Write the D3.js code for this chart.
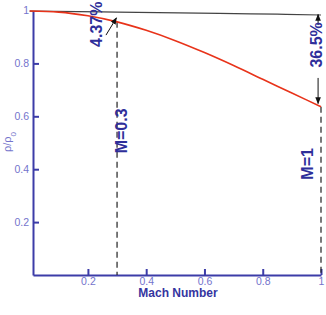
<!DOCTYPE html>
<html lang="en">
<head>
    <meta charset="UTF-8">
    <script src="https://d3js.org/d3.v7.min.js"></script>
    <title>Density ratio vs Mach number</title>
    <style>
        body { margin: 0; background: #fff; }
        svg { font-family: "Liberation Sans", Arial, sans-serif; }
        .axis .domain { stroke: #3c3ca8; stroke-width: 2; }
        .axis .tick line { stroke: #3c3ca8; stroke-width: 2; }
        .axis .tick text { fill: #7474cc; font-size: 10.5px; }
        .note { fill: #2e2e9a; font-size: 16px; font-weight: bold; }
    </style>
</head>
<body>
<div id="chart"></div>
<script>
    // valeurs
    const mach = [0, 0.1, 0.2, 0.3, 0.4, 0.5, 0.6, 0.7, 0.8, 0.9, 1.0];
    const rhoCompressible = [0.998, 0.994, 0.980, 0.957, 0.925, 0.886, 0.841, 0.792, 0.740, 0.688, 0.636];
    const machRef = [0, 0.3, 0.65, 0.85, 1.0];
    const rhoRef = [0.998, 0.994, 0.989, 0.986, 0.983];

    const xTicks = [0.2, 0.4, 0.6, 0.8, 1];
    const yTicks = [0.2, 0.4, 0.6, 0.8, 1];
    const markers = [0.3, 1];           // lignes pointillées
    const markerLabels = ["M=0.3", "M=1"];
    const dropLabels = ["4.37%", "36.5%"];

    const width = 326, height = 315;

    const svg = d3.select("#chart").append("svg")
        .attr("width", width).attr("height", height);

    const x = d3.scaleLinear().domain([0.0115, 1]).range([33, 321]);
    const y = d3.scaleLinear().domain([0, 1]).range([275, 10.5]);

    svg.append("defs").append("marker")
        .attr("id", "arrow")
        .attr("viewBox", "0 0 10 10")
        .attr("refX", 9).attr("refY", 5)
        .attr("markerWidth", 7).attr("markerHeight", 7)
        .attr("markerUnits", "userSpaceOnUse")
        .attr("orient", "auto")
        .append("path").attr("d", "M0,1 L10,5 L0,9 Z").attr("fill", "#111");

    // axes
    svg.append("g")
        .attr("class", "axis")
        .attr("transform", "translate(0,275)")
        .call(d3.axisBottom(x).tickValues(xTicks).tickSize(-6).tickSizeOuter(0).tickPadding(3)
            .tickFormat(d => d === 1 ? "1" : d3.format(".1f")(d)));

    const gy = svg.append("g")
        .attr("class", "axis")
        .attr("transform", "translate(33,0)")
        .call(d3.axisLeft(y).tickValues(yTicks).tickSize(-6).tickSizeOuter(0).tickPadding(4)
            .tickFormat(d => d === 1 ? "1" : d3.format(".1f")(d)));
    gy.selectAll(".tick").filter(d => d === 1).select("line").remove();

    // pointillés verticaux
    const redAt = m => rhoCompressible[mach.indexOf(m)];
    svg.selectAll(".marker-line")
        .data(markers)
        .join("line")
        .attr("x1", d => x(d)).attr("x2", d => x(d))
        .attr("y1", d => y(redAt(d))).attr("y2", y(0))
        .attr("stroke", "#222").attr("stroke-width", 1.2)
        .attr("stroke-dasharray", "6,4");

    // courbes
    const line = d3.line().x(d => x(d[0])).y(d => y(d[1])).curve(d3.curveMonotoneX);
    svg.append("path")
        .datum(d3.zip(machRef, rhoRef))
        .attr("d", line)
        .attr("fill", "none").attr("stroke", "#444").attr("stroke-width", 1.2);
    svg.append("path")
        .datum(d3.zip(mach, rhoCompressible))
        .attr("d", line)
        .attr("fill", "none").attr("stroke", "#e8331a").attr("stroke-width", 1.6);

    // flèches
    const arrows = [
        { from: [0.262, 0.907], to: [0.298, 0.972] },
        { from: [0.99, 0.945], to: [0.99, 0.985] },
        { from: [0.99, 0.745], to: [0.99, 0.648] }
    ];
    svg.selectAll(".arrow")
        .data(arrows)
        .join("line")
        .attr("x1", d => x(d.from[0])).attr("y1", d => y(d.from[1]))
        .attr("x2", d => x(d.to[0])).attr("y2", d => y(d.to[1]))
        .attr("stroke", "#111").attr("stroke-width", 1)
        .attr("marker-end", "url(#arrow)");

    // textes
    const notes = [
        { text: markerLabels[0], m: 0.315, r: 0.545 },
        { text: markerLabels[1], m: 0.953, r: 0.42 },
        { text: dropLabels[0], m: 0.228, r: 0.948 },
        { text: dropLabels[1], m: 0.985, r: 0.87 }
    ];
    svg.selectAll(".note")
        .data(notes)
        .join("text")
        .attr("class", "note")
        .attr("transform", d => `translate(${x(d.m)},${y(d.r)}) rotate(-90)`)
        .attr("text-anchor", "middle")
        .attr("dy", "0.36em")
        .text(d => d.text);

    svg.append("text")
        .attr("x", 178).attr("y", 297)
        .attr("text-anchor", "middle")
        .attr("fill", "#3535a0")
        .style("font-size", "12px").style("font-weight", "bold")
        .text("Mach Number");

    const yl = svg.append("text")
        .attr("transform", "translate(11,142) rotate(-90)")
        .attr("text-anchor", "middle")
        .attr("fill", "#7474cc")
        .style("font-size", "11px");
    yl.append("tspan").text("ρ/ρ");
    yl.append("tspan").attr("baseline-shift", "sub").style("font-size", "8px").text("0");
</script>
</body>
</html>
